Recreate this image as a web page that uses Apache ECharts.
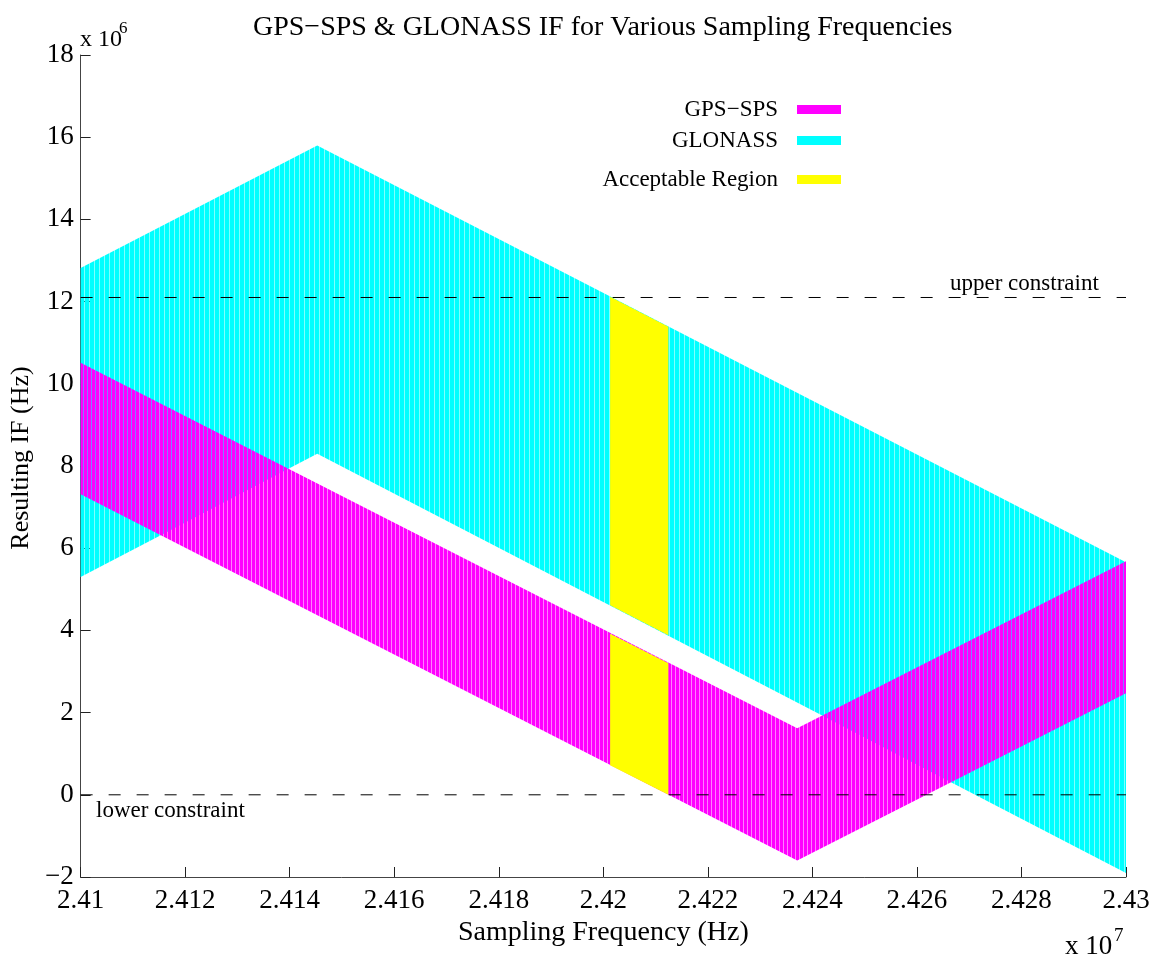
<!DOCTYPE html>
<html><head><meta charset="utf-8">
<script src="https://cdn.jsdelivr.net/npm/echarts@6/dist/echarts.min.js"></script>
<style>html,body{margin:0;padding:0;background:#fff}#c{width:1154px;height:958px}</style>
</head><body><div id="c"></div>
<script>
// ---- data (Hz) ----
const glonassFs    = [24.10e6, 24.14527e6, 24.30e6];
const glonassUpper = [12.82e6, 15.80e6, 5.66e6];
const glonassLower = [5.30e6, 8.30e6, -1.90e6];

const gpsFs    = [24.10e6, 24.2371e6, 24.30e6];
const gpsUpper = [10.51e6, 1.62e6, 5.68e6];
const gpsLower = [7.31e6, -1.60e6, 2.47e6];

const acceptFs           = [24.2013e6, 24.21245e6];
const acceptGlonassUpper = [12.12e6, 11.39e6];
const acceptGlonassLower = [4.61e6, 3.88e6];
const acceptGpsUpper     = [3.92e6, 3.20e6];
const acceptGpsLower     = [0.72e6, 0.00e6];

const upperConstraint = 12.1e6;
const lowerConstraint = 0;

const xTickValues = [24.10e6,24.12e6,24.14e6,24.16e6,24.18e6,24.20e6,24.22e6,24.24e6,24.26e6,24.28e6,24.30e6];
const xTickLabels = ['2.41','2.412','2.414','2.416','2.418','2.42','2.422','2.424','2.426','2.428','2.43'];
const yTickValues = [-2e6,0,2e6,4e6,6e6,8e6,10e6,12e6,14e6,16e6,18e6];
const yTickLabels = ['\u22122','0','2','4','6','8','10','12','14','16','18'];

const seriesNames = ['GPS\u2212SPS', 'GLONASS', 'Acceptable Region'];
const titleText = 'GPS\u2212SPS & GLONASS IF for Various Sampling Frequencies';

// ---- styling ----
const FONT = '"Liberation Serif", "Times New Roman", serif';
function stripe(solid, light, period) {
  const c = document.createElement('canvas');
  c.width = period; c.height = 4;
  const g = c.getContext('2d');
  g.fillStyle = solid; g.fillRect(0, 0, period - 1, 4);
  g.fillStyle = light; g.fillRect(period - 1, 0, 1, 4);
  return c;
}
const cyanFill = {image: stripe('#00ffff', 'rgba(0,255,255,0.5)', 5), repeat: 'repeat'};
const magFill  = {image: stripe('#ff00ff', 'rgba(255,0,255,0.5)', 4), repeat: 'repeat'};

function bandSeries(name, xs, ups, los, color, fill, z) {
  return {
    type: 'custom', name: name, z: z, silent: true,
    itemStyle: {color: color},
    data: xs.map((x, i) => [x, ups[i], los[i]]),
    encode: {x: 0, y: [1, 2]},
    renderItem: function (params, api) {
      if (params.dataIndex !== 0) return null;
      const n = xs.length, top = [], bot = [];
      for (let j = 0; j < n; j++) {
        top.push(api.coord([api.value(0, j), api.value(1, j)]));
        bot.push(api.coord([api.value(0, j), api.value(2, j)]));
      }
      return {type: 'polygon', shape: {points: top.concat(bot.reverse())}, style: {fill: fill, stroke: null}};
    }
  };
}

const chart = echarts.init(document.getElementById('c'), null, {renderer: 'canvas'});
const tickFmtX = v => { const i = xTickValues.findIndex(t => Math.abs(t - v) < 1); return i >= 0 ? xTickLabels[i] : ''; };
const tickFmtY = v => { const i = yTickValues.findIndex(t => Math.abs(t - v) < 1); return i >= 0 ? yTickLabels[i] : ''; };

const legendTops = [98, 129, 168];
const txt = {fontFamily: FONT, color: '#000'};
chart.setOption({
  animation: false,
  backgroundColor: '#fff',
  textStyle: {fontFamily: FONT},
  title: {text: titleText, left: 253, top: 14, padding: 0,
    textStyle: Object.assign({fontSize: 28, fontWeight: 'normal'}, txt)},
  legend: seriesNames.map((n, i) => ({
    data: [n], orient: 'vertical', right: 313, top: legendTops[i], padding: 0,
    align: 'right', itemWidth: 44, itemHeight: 9, icon: 'rect', selectedMode: false,
    textStyle: Object.assign({fontSize: 23, padding: [0, 14, 0, 0]}, txt)
  })),
  grid: {left: 79, right: 28, top: 55, bottom: 81, containLabel: false},
  xAxis: {
    type: 'value', min: 24.10e6, max: 24.30e6, interval: 0.02e6,
    name: 'Sampling Frequency (Hz)', nameLocation: 'middle', nameGap: 42,
    nameTextStyle: Object.assign({fontSize: 28}, txt),
    axisLine: {onZero: false, lineStyle: {color: '#444', width: 1}},
    axisTick: {inside: true, length: 10, lineStyle: {color: '#222'}},
    axisLabel: Object.assign({formatter: tickFmtX, fontSize: 27, margin: 10, showMinLabel: true, showMaxLabel: true}, txt),
    splitLine: {show: false}
  },
  yAxis: {
    type: 'value', min: -2e6, max: 18e6, interval: 2e6,
    name: 'Resulting IF (Hz)', nameLocation: 'middle', nameGap: 44, nameRotate: 90,
    nameTextStyle: Object.assign({fontSize: 26, padding: [0, 0, 0, 16]}, txt),
    axisLine: {onZero: false, lineStyle: {color: '#444', width: 1}},
    axisTick: {inside: true, length: 10, lineStyle: {color: '#222'}},
    axisLabel: Object.assign({formatter: tickFmtY, fontSize: 27, margin: 7}, txt),
    splitLine: {show: false}
  },
  series: [
    bandSeries(seriesNames[1], glonassFs, glonassUpper, glonassLower, '#00ffff', cyanFill, 1),
    bandSeries(seriesNames[0], gpsFs, gpsUpper, gpsLower, '#ff00ff', magFill, 2),
    bandSeries(seriesNames[2], acceptFs, acceptGlonassUpper, acceptGlonassLower, '#ffff00', '#ffff00', 3),
    bandSeries('accept-gps', acceptFs, acceptGpsUpper, acceptGpsLower, '#ffff00', '#ffff00', 3),
    {type: 'line', name: 'upper constraint', silent: true, z: 5, symbol: 'none',
     data: [[24.10e6, upperConstraint], [24.30e6, upperConstraint]],
     lineStyle: {color: '#000', width: 1, type: [12, 16]}},
    {type: 'line', name: 'lower constraint', silent: true, z: 5, symbol: 'none',
     data: [[24.10e6, lowerConstraint], [24.30e6, lowerConstraint]],
     lineStyle: {color: '#000', width: 1, type: [12, 16]}}
  ],
  graphic: [
    {type: 'text', left: 80, top: 28, style: {text: 'x 10', font: '24px "Liberation Serif"', fill: '#000'}},
    {type: 'text', left: 119, top: 20, style: {text: '6', font: '17px "Liberation Serif"', fill: '#000'}},
    {type: 'text', left: 1065, top: 933, style: {text: 'x 10', font: '27px "Liberation Serif"', fill: '#000'}},
    {type: 'text', left: 1114, top: 927, style: {text: '7', font: '19px "Liberation Serif"', fill: '#000'}},
    {type: 'text', left: 950, top: 272, style: {text: 'upper constraint', font: '23px "Liberation Serif"', fill: '#000'}},
    {type: 'text', left: 96, top: 799, style: {text: 'lower constraint', font: '23px "Liberation Serif"', fill: '#000'}}
  ]
});
</script>
</body></html>
